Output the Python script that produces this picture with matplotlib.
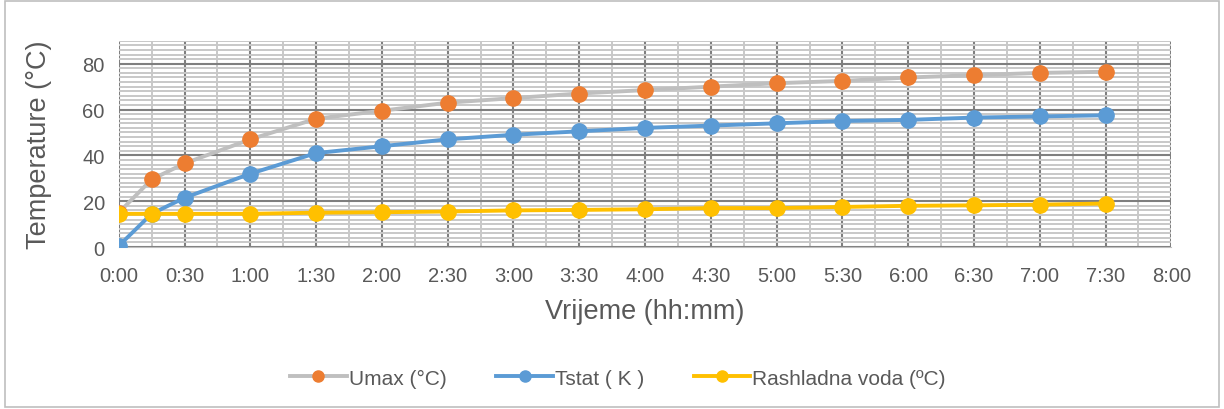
import matplotlib.pyplot as plt
from matplotlib.ticker import FuncFormatter, MultipleLocator
from matplotlib.lines import Line2D
import matplotlib.patches as patches

plt.rcParams['font.family'] = ['Liberation Sans', 'DejaVu Sans']

# time in minutes
time_min = [0, 15, 30, 60, 90, 120, 150, 180, 210, 240, 270, 300, 330, 360, 390, 420, 450]
umax = [15, 29.5, 36.5, 47, 56, 59.5, 63, 65, 67, 68.5, 70, 71.5, 72.5, 74, 75, 76, 76.5]
tstat = [0.5, 14.5, 21.5, 32, 41, 44, 47, 49, 50.5, 52, 53, 54, 55, 55.5, 56.5, 57, 57.5]
voda = [14.5, 14.5, 14.5, 14.5, 15, 15.2, 15.5, 16, 16.2, 16.5, 17, 17, 17.5, 18, 18.2, 18.5, 19]

txt = '#595959'


def hhmm(v, pos):
    v = int(round(v))
    return '%d:%02d' % (v // 60, v % 60)


fig = plt.figure(figsize=(12.24, 4.10), dpi=100)
ax = fig.add_axes([0.097, 0.395, 0.86, 0.503])

ax.plot(time_min, umax, color='#BFBFBF', lw=2.8, marker='o', ms=11,
        mfc='#ED7D31', mec='#ED7D31', zorder=3)
ax.plot(time_min, tstat, color='#5B9BD5', lw=2.8, marker='o', ms=11,
        mfc='#5B9BD5', mec='#5B9BD5', zorder=4)
ax.plot(time_min, voda, color='#FFC000', lw=2.8, marker='o', ms=11,
        mfc='#FFC000', mec='#FFC000', zorder=5)

ax.set_xlim(0, 480)
ax.set_ylim(0, 90)
ax.xaxis.set_major_locator(MultipleLocator(30))
ax.xaxis.set_minor_locator(MultipleLocator(15))
ax.yaxis.set_major_locator(MultipleLocator(20))
ax.yaxis.set_minor_locator(MultipleLocator(2))
ax.xaxis.set_major_formatter(FuncFormatter(hhmm))

ax.grid(which='minor', color='#C8C8C8', lw=1.4)
ax.grid(which='major', color='#7F7F7F', lw=1.5)
ax.set_axisbelow(True)
for s in ['top', 'right', 'left']:
    ax.spines[s].set_visible(False)
ax.spines['bottom'].set_color('#BFBFBF')
ax.tick_params(which='both', length=0, labelsize=14.5, colors=txt)
ax.tick_params(axis='x', pad=14)
ax.tick_params(axis='y', pad=10)

ax.set_ylabel('Temperature (°C)', fontsize=19.5, color=txt, labelpad=22)
ax.set_xlabel('Vrijeme (hh:mm)', fontsize=19.5, color=txt, labelpad=9)

handles = [
    Line2D([], [], color='#BFBFBF', lw=2.8, marker='o', ms=8, mfc='#ED7D31', mec='#ED7D31'),
    Line2D([], [], color='#5B9BD5', lw=2.8, marker='o', ms=8),
    Line2D([], [], color='#FFC000', lw=2.8, marker='o', ms=8),
]
labels = ['Umax (°C)', 'Tstat ( K )', 'Rashladna voda (ºC)']
fig.legend(handles, labels, loc='center', bbox_to_anchor=(0.505, 0.075), ncol=3,
           frameon=False, fontsize=15, labelcolor=txt, handlelength=2.7,
           handletextpad=0.1, columnspacing=2.4)

fig.patches.append(patches.Rectangle((0.004, 0.005), 0.992, 0.99, transform=fig.transFigure,
                                     fill=False, edgecolor='#BFBFBF', lw=1.2))

fig.savefig('out.png', dpi=100)
